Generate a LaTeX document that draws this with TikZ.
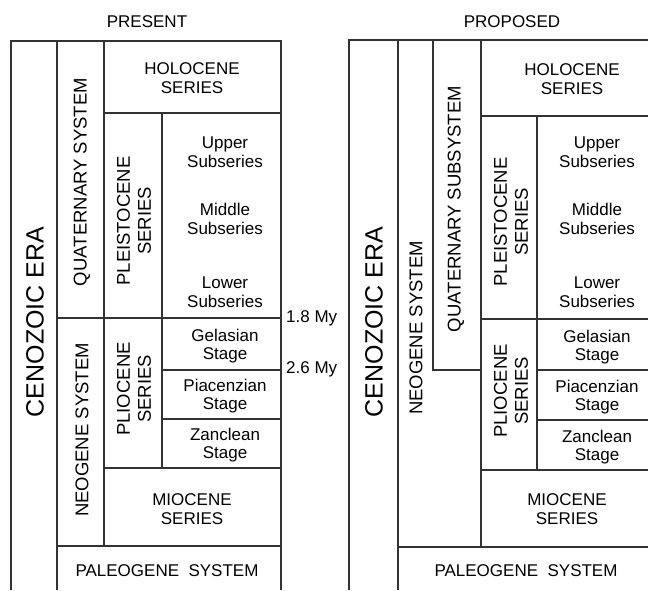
\documentclass[tikz,border=0pt]{standalone}
\usepackage{fontspec}
\setmainfont{Liberation Sans}
\usetikzlibrary{positioning}

\tikzset{
	rule/.style = {black!80, line width = 1.1pt},
	cell/.style = {align = center, inner sep = 0pt, font = \fontsize{17}{18.7}\selectfont},
	upcell/.style = {align = center, inner sep = 0pt, rotate = 90, font = \fontsize{18.5}{21}\selectfont},
	eracell/.style = {inner sep = 0pt, rotate = 90, font = \fontsize{25}{27}\selectfont}
}

\begin{document}
\begin{tikzpicture}[x = 1pt, y = -1pt]
	\useasboundingbox (0, 0) rectangle (648, 590);
	% present column
	\draw [rule] (11, 590) -- (11, 41) -- (281, 41) -- (281, 590);
	\draw [rule] (57, 41) -- (57, 590);
	\draw [rule] (104, 41) -- (104, 546);
	\draw [rule] (162, 113) -- (162, 468);
	\foreach \y/\a in {113/104, 318/57, 370/162, 419/162, 468/104, 546/57}
		\draw [rule] (\a, \y) -- (281, \y);
	% proposed column
	\draw [rule] (349, 590) -- (349, 40) -- (648, 40);
	\draw [rule] (398, 40) -- (398, 590);
	\draw [rule] (433, 40) -- (433, 370) -- (481, 370);
	\draw [rule] (481, 40) -- (481, 547);
	\draw [rule] (537, 116) -- (537, 470);
	\foreach \y/\a in {116/481, 319/481, 370/537, 420/537, 470/481, 547/398}
		\draw [rule] (\a, \y) -- (648, \y);

	\node [cell] (present) at (147, 22) {PRESENT};
	\node [eracell] (eraL) at (35, 322) {CENOZOIC ERA};
	\node [upcell] (quatL) at (82, 182) {QUATERNARY SYSTEM};
	\node [cell] (holoL) at (192, 78) {HOLOCENE\\SERIES};
	\node [upcell] (pleiL) at (134, 221) {PLEISTOCENE\\SERIES};
	\node [cell] (upperL) at (225, 152) {Upper\\Subseries};
	\node [cell] (middleL) at (225, 219) {Middle\\Subseries};
	\node [cell] (lowerL) at (225, 292) {Lower\\Subseries};
	\node [upcell] (neoL) at (82, 430) {NEOGENE SYSTEM};
	\node [upcell] (pliL) at (134, 389) {PLIOCENE\\SERIES};
	\node [cell] (gelL) at (225, 346) {Gelasian\\Stage};
	\node [cell] (piaL) at (225, 396) {Piacenzian\\Stage};
	\node [cell] (zanL) at (225, 445) {Zanclean\\Stage};
	\node [cell] (mioL) at (192, 509) {MIOCENE\\SERIES};
	\node [cell] (paleoL) at (167, 571) {PALEOGENE\ \ SYSTEM};
	\node [cell, anchor = west] (ageA) at (286, 318) {1.8 My};
	\node [cell, anchor = west] (ageB) at (286, 369) {2.6 My};

	\node [cell] (proposed) at (512, 22) {PROPOSED};
	\node [eracell] (eraR) at (374, 322) {CENOZOIC ERA};
	\node [upcell] (neoR) at (416, 328) {NEOGENE SYSTEM};
	\node [upcell] (quatR) at (456, 209) {QUATERNARY SUBSYSTEM};
	\node [cell] (holoR) at (572, 79) {HOLOCENE\\SERIES};
	\node [upcell] (pleiR) at (511, 222) {PLEISTOCENE\\SERIES};
	\node [cell] (upperR) at (597, 152) {Upper\\Subseries};
	\node [cell] (middleR) at (597, 219) {Middle\\Subseries};
	\node [cell] (lowerR) at (597, 292) {Lower\\Subseries};
	\node [upcell] (pliR) at (511, 391) {PLIOCENE\\SERIES};
	\node [cell] (gelR) at (597, 347) {Gelasian\\Stage};
	\node [cell] (piaR) at (597, 397) {Piacenzian\\Stage};
	\node [cell] (zanR) at (597, 447) {Zanclean\\Stage};
	\node [cell] (mioR) at (567, 509) {MIOCENE\\SERIES};
	\node [cell] (paleoR) at (526, 571) {PALEOGENE\ \ SYSTEM};
\end{tikzpicture}
\end{document}
